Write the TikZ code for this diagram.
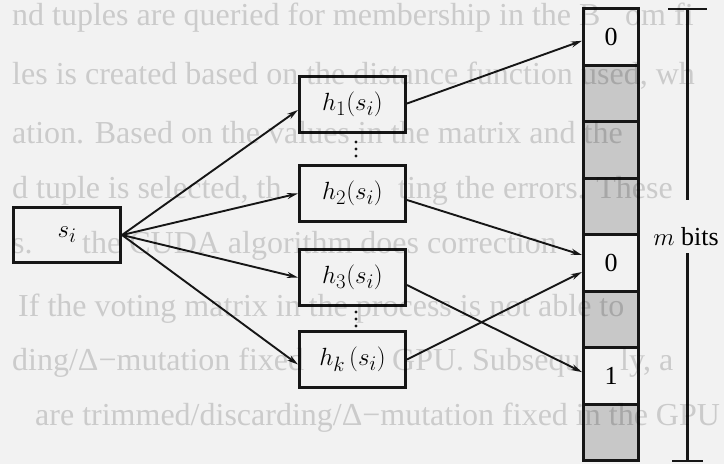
\documentclass[tikz,border=0pt]{standalone}
\usepackage[no-math]{fontspec}
\setmainfont{Liberation Serif}
\usetikzlibrary{arrows.meta}
\definecolor{paper}{RGB}{242,242,242}
\definecolor{cellgray}{RGB}{200,200,200}
\definecolor{ink}{RGB}{22,22,22}

\begin{document}
\begin{tikzpicture}[x=1pt,y=-1pt,
  hbox/.style={draw=ink,line width=2.6pt,fill=paper,minimum width=106.5pt,
    minimum height=55.5pt,inner sep=0pt,font=\fontsize{30}{32}\selectfont},
  cell/.style={draw=ink,line width=3pt,minimum width=55pt,minimum height=56.56pt,
    inner sep=0pt,font=\fontsize{26}{28}\selectfont},
  bitcell/.style={cell,fill=paper},
  emptycell/.style={cell,fill=cellgray},
  link/.style={draw=ink,line width=1.9pt,-{Stealth[length=11pt,width=6pt]}},
  ghosttext/.style={anchor=base west,text=black,text opacity=0.16,inner sep=0pt,
    font=\fontsize{32}{34}\selectfont},
  dimline/.style={draw=ink,line width=3pt},
  ticks/.style={draw=ink,line width=2.5pt},
]
% page
\fill[paper] (0,0) rectangle (724,464);
\useasboundingbox (0,0) rectangle (724,464);

% input and hash functions
\node[hbox,minimum width=107.5pt] (s)  at (67,235)    {$s_i$};
\node[hbox] (h1) at (352.5,104.5) {$h_1(s_i)$};
\node[hbox] (h2) at (352.5,193.5) {$h_2(s_i)$};
\node[hbox] (h3) at (352.5,277.5) {$h_3(s_i)$};
\node[hbox] (hk) at (352.5,359.5) {$h_{k}\,(s_i)$};

% bit array
\foreach \i/\kind/\val in {1/bitcell/0,2/emptycell/,3/emptycell/,4/emptycell/,
                           5/bitcell/0,6/emptycell/,7/bitcell/1,8/emptycell/}{
  \node[\kind] (c\i) at (611,{8.5+28.28+56.56*(\i-1)}) {\val};
}

% elision dots
\foreach \y in {142,149,156,312,319,326}{
  \fill[ink] (356,\y) circle (1.6);
}

% s_i fans out to every hash function
\draw[link] (s.east) -- ([yshift=-5.5pt]h1.west);
\draw[link] (s.east) -- (h2.west);
\draw[link] (s.east) -- (h3.west);
\draw[link] (s.east) -- ([yshift=-5pt]hk.west);

% hash functions set bits
\draw[link] ([yshift=1pt]h1.east) -- ([yshift=-4pt]c1.west);
\draw[link] ([yshift=-6.5pt]h2.east) -- ([yshift=8pt]c5.west);
\draw[link] ([yshift=-7.5pt]h3.east) -- ([yshift=4pt]c7.west);
\draw[link] (hk.east) -- ([yshift=-9pt]c5.west);

% length of the array
\node[font=\fontsize{26}{28}\selectfont,inner sep=0pt] (mbits) at (686,237) {$m$ bits};
\coordinate (dtop) at (687,9);
\coordinate (dtopend) at (687,200);
\coordinate (dbotstart) at (687,253);
\coordinate (dbot) at (687,461);
\coordinate (ttl) at (668,9);  \coordinate (ttr) at (707,9);
\coordinate (tbl) at (672,461); \coordinate (tbr) at (703,461);
\draw[dimline] (dtop) -- (dtopend);
\draw[dimline] (dbotstart) -- (dbot);
\draw[ticks] (ttl) -- (ttr);
\draw[ticks] (tbl) -- (tbr);

% print showing through from the other side of the sheet
\node[ghosttext] (g1a) at (12,25)  {nd tuples are queried for membership in the B};
\node[ghosttext] (g1b) at (625,25) {om fi};
\node[ghosttext] (g2a) at (12,84)  {les is created based on the distance function};
\node[ghosttext] (g2b) at (581,84) {used, wh};
\node[ghosttext] (g3)  at (12,143) {ation.  Based on the values in the matrix and the};
\node[ghosttext] (g4a) at (12,198) {d tuple is selected, th};
\node[ghosttext] (g4b) at (398,198) {ting the errors.  These};
\node[ghosttext] (g5a) at (12,253) {s.};
\node[ghosttext] (g5b) at (82,253) {the CUDA algorithm does correction};
\node[ghosttext] (g6)  at (18,316) {If the voting matrix in the process is not able to};
\node[ghosttext] (g7a) at (12,370) {ding/Δ−mutation fixed};
\node[ghosttext] (g7b) at (392,370) {GPU. Subsequ};
\node[ghosttext] (g7c) at (620,370) {ly, a};
\node[ghosttext] (g8)  at (35,425) {are trimmed/discarding/Δ−mutation fixed in the GPU};
\end{tikzpicture}
\end{document}
